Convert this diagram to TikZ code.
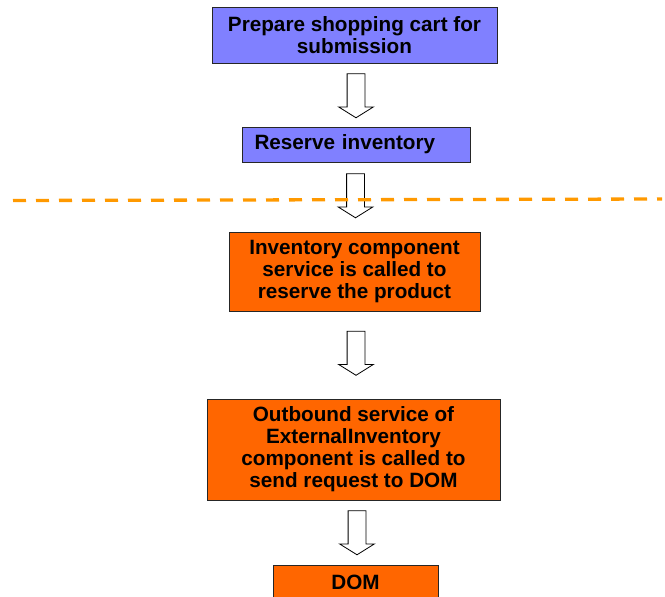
\documentclass[tikz,border=0pt]{standalone}
\usepackage{fontspec}
\setmainfont{Liberation Sans}
\usepackage{xcolor}
\usetikzlibrary{shapes.arrows,calc}

\definecolor{stepblue}{RGB}{128,128,255}
\definecolor{steporange}{RGB}{255,102,0}
\definecolor{lineorange}{RGB}{255,153,0}

\begin{document}
\begin{tikzpicture}[x=1pt,y=1pt,
  box/.style={draw=black!85,line width=0.9pt,font=\fontsize{20.7}{22}\selectfont\bfseries,
    align=center,inner sep=0pt},
  bluebox/.style={box,fill=stepblue},
  orangebox/.style={box,fill=steporange},
  blockarr/.style={single arrow,draw=black,line width=0.8pt,fill=white,rotate=-90,
    minimum height=44pt,single arrow head extend=8.5pt,
    single arrow tip angle=116,single arrow head indent=0pt,inner xsep=0pt,inner ysep=8.5pt}]
\useasboundingbox (0,0) rectangle (665,-597);
% upper part, shopping cart side
\node[bluebox,minimum width=285pt,minimum height=56pt] (prep) at (354.5,-35)
  {Prepare shopping cart for\\submission};
\node[bluebox,minimum width=228pt,minimum height=35pt,text width=203pt,align=left] (reserve) at (356,-144.5)
  {Reserve inventory};
% lower part, inventory side
\node[orangebox,minimum width=251pt,minimum height=79pt] (invcomp) at (354.5,-271.5)
  {Inventory component\\service is called to\\reserve the product};
\node[orangebox,minimum width=293pt,minimum height=101pt] (outbound) at (353.5,-449.5)
  {Outbound service of\\ExternalInventory\\component is called to\\send request to DOM};
\node[orangebox,minimum width=165pt,minimum height=34pt] (dom) at (355.5,-582) {DOM};
% block arrows between the steps
\node[blockarr] (ar1) at (356,-93) {};
\node[blockarr] (ar2) at (355.5,-193) {};
\node[blockarr] (ar3) at (356,-350.5) {};
\node[blockarr] (ar4) at (357,-530) {};
% boundary line
\coordinate (sepL) at (13,-200.5);
\coordinate (sepR) at (662,-199);
\draw[lineorange,line width=3.3pt,dash pattern=on 13pt off 10pt] (sepL) -- (sepR);
\end{tikzpicture}
\end{document}
